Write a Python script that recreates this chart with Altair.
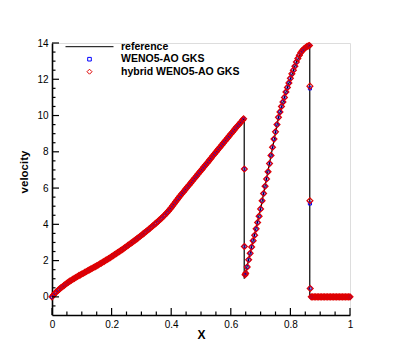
import altair as alt
import pandas as pd

# ---------------- data ----------------
series_names = ["reference", "WENO5-AO GKS", "hybrid WENO5-AO GKS"]
series_colors = ["black", "#0000ff", "#e00000"]

# numerical solution (cell values), common to both schemes
# segment 1: rise up to the first shock
x_seg1 = [0.000, 0.005, 0.010, 0.015, 0.020, 0.025, 0.030, 0.035, 0.040, 0.045,
          0.050, 0.055, 0.060, 0.065, 0.070, 0.075, 0.080, 0.085, 0.090, 0.095,
          0.100, 0.105, 0.110, 0.115, 0.120, 0.125, 0.130, 0.135, 0.140, 0.145,
          0.150, 0.155, 0.160, 0.165, 0.170, 0.175, 0.180, 0.185, 0.190, 0.195,
          0.200, 0.205, 0.210, 0.215, 0.220, 0.225, 0.230, 0.235, 0.240, 0.245,
          0.250, 0.255, 0.260, 0.265, 0.270, 0.275, 0.280, 0.285, 0.290, 0.295,
          0.300, 0.305, 0.310, 0.315, 0.320, 0.325, 0.330, 0.335, 0.340, 0.345,
          0.350, 0.355, 0.360, 0.365, 0.370, 0.375, 0.380, 0.385, 0.390, 0.395,
          0.400, 0.405, 0.410, 0.415, 0.420, 0.425, 0.430, 0.435, 0.440, 0.445,
          0.450, 0.455, 0.460, 0.465, 0.470, 0.475, 0.480, 0.485, 0.490, 0.495,
          0.500, 0.505, 0.510, 0.515, 0.520, 0.525, 0.530, 0.535, 0.540, 0.545,
          0.550, 0.555, 0.560, 0.565, 0.570, 0.575, 0.580, 0.585, 0.590, 0.595,
          0.600, 0.605, 0.610, 0.615, 0.620, 0.625, 0.630, 0.635, 0.640, 0.643]
v_seg1 = [0.0, 0.1, 0.2, 0.28, 0.35, 0.43, 0.5, 0.56, 0.62, 0.69,
          0.75, 0.81, 0.87, 0.92, 0.97, 1.02, 1.07, 1.12, 1.17, 1.21,
          1.26, 1.3, 1.35, 1.4, 1.44, 1.49, 1.53, 1.58, 1.62, 1.67,
          1.71, 1.76, 1.81, 1.86, 1.91, 1.96, 2.01, 2.06, 2.11, 2.16,
          2.22, 2.27, 2.33, 2.38, 2.44, 2.49, 2.55, 2.6, 2.66, 2.72,
          2.78, 2.84, 2.9, 2.96, 3.02, 3.08, 3.14, 3.2, 3.27, 3.33,
          3.4, 3.46, 3.53, 3.59, 3.66, 3.73, 3.8, 3.87, 3.94, 4.01,
          4.08, 4.15, 4.23, 4.3, 4.38, 4.46, 4.54, 4.63, 4.72, 4.82,
          4.92, 5.03, 5.14, 5.25, 5.36, 5.46, 5.57, 5.67, 5.77, 5.87,
          5.97, 6.07, 6.17, 6.27, 6.37, 6.47, 6.57, 6.67, 6.77, 6.87,
          6.97, 7.07, 7.17, 7.27, 7.37, 7.47, 7.57, 7.67, 7.78, 7.88,
          7.98, 8.08, 8.18, 8.28, 8.38, 8.48, 8.58, 8.68, 8.78, 8.88,
          8.98, 9.08, 9.18, 9.28, 9.38, 9.47, 9.56, 9.66, 9.75, 9.82]

# segment 2: between the two shocks
x_seg2 = [0.648, 0.650, 0.655, 0.660, 0.665, 0.670, 0.675, 0.680, 0.685, 0.690, 0.695,
          0.700, 0.705, 0.710, 0.715, 0.720, 0.725, 0.730, 0.735, 0.740, 0.745,
          0.750, 0.755, 0.760, 0.765, 0.770, 0.775, 0.780, 0.785, 0.790, 0.795,
          0.800, 0.805, 0.810, 0.815, 0.820, 0.825, 0.830, 0.835, 0.840, 0.845,
          0.850, 0.855, 0.860, 0.864]
v_seg2 = [1.22, 1.3, 1.65, 2.05, 2.4, 2.75, 3.1, 3.4, 3.75, 4.1, 4.45,
          4.85, 5.3, 5.7, 6.1, 6.5, 6.9, 7.35, 7.8, 8.25, 8.7,
          9.1, 9.5, 9.9, 10.2, 10.5, 10.75, 11.0, 11.3, 11.55, 11.8,
          12.05, 12.3, 12.5, 12.72, 12.95, 13.15, 13.32, 13.47, 13.58, 13.67,
          13.74, 13.8, 13.84, 13.86]

# segment 3: undisturbed gas right of the second shock
x_seg3 = [0.870, 0.875, 0.880, 0.885, 0.890, 0.895, 0.900, 0.905, 0.910, 0.915,
          0.920, 0.925, 0.930, 0.935, 0.940, 0.945, 0.950, 0.955, 0.960, 0.965,
          0.970, 0.975, 0.980, 0.985, 0.990, 0.995, 1.000]
v_seg3 = [0.0, 0.0, 0.0, 0.0, 0.0, 0.0, 0.0, 0.0, 0.0, 0.0,
          0.0, 0.0, 0.0, 0.0, 0.0, 0.0, 0.0, 0.0, 0.0, 0.0,
          0.0, 0.0, 0.0, 0.0, 0.0, 0.0, 0.0]

# intermediate cells inside the two shocks
x_shock = [0.6455, 0.6455, 0.8655, 0.8655, 0.8665]
v_shock_blue = [7.05, 2.78, 11.5, 5.15, 0.47]
v_shock_red = [7.05, 2.78, 11.62, 5.3, 0.46]

# reference solution
x_ref = [0.0, 0.05, 0.1, 0.2, 0.3, 0.4, 0.5, 0.6, 0.645, 0.645,
         0.66, 0.70, 0.76, 0.79, 0.82, 0.84, 0.865, 0.865, 1.0]
v_ref = [0.0, 0.75, 1.26, 2.22, 3.4, 4.92, 6.97, 8.98, 9.85, 1.0,
         2.05, 4.85, 9.9, 11.55, 12.95, 13.58, 13.87, 0.0, 0.0]

# axis ticks
x_major_ticks = [0, 0.2, 0.4, 0.6, 0.8, 1.0]
x_minor_ticks = [0.05, 0.1, 0.15, 0.25, 0.3, 0.35, 0.45, 0.5, 0.55,
                 0.65, 0.7, 0.75, 0.85, 0.9, 0.95]
y_major_ticks = [0, 2, 4, 6, 8, 10, 12, 14]
y_minor_ticks = [-0.5, 0.5, 1, 1.5, 2.5, 3, 3.5, 4.5, 5, 5.5, 6.5, 7, 7.5,
                 8.5, 9, 9.5, 10.5, 11, 11.5, 12.5, 13, 13.5]

# ---------------- chart ----------------
W, H = 298, 272
FONT = "Liberation Sans"

line_path = "M-4.8,0H4.8"
square_path = "M-0.36,-0.36H0.36V0.36H-0.36Z"
diamond_path = "M0,-0.5L0.5,0L0,0.5L-0.5,0Z"

x_all = x_seg1 + x_seg2 + x_seg3
v_all = v_seg1 + v_seg2 + v_seg3

ref_df = pd.DataFrame({"x": x_ref, "v": v_ref, "i": list(range(len(x_ref)))})
blue_df = pd.DataFrame({"x": x_all + x_shock, "v": v_all + v_shock_blue,
                        "series": series_names[1]})
red_df = pd.DataFrame({"x": x_all + x_shock, "v": v_all + v_shock_red,
                       "series": series_names[2]})

x_enc = alt.X("x:Q", scale=alt.Scale(domain=[0, 1], nice=False, zero=False),
              axis=alt.Axis(values=x_major_ticks, format="~g", ticks=False, tickSize=0,
                            grid=False, labelFlush=False, labelOverlap=False,
                            labelFont=FONT, labelFontSize=10, labelColor="black",
                            labelPadding=4, domainColor="black", domainWidth=1.6,
                            title="X", titleFont=FONT, titleFontSize=12,
                            titleFontWeight="bold", titleColor="black",
                            titleY=19, titleBaseline="middle", titleAlign="center"))
y_enc = alt.Y("v:Q", scale=alt.Scale(domain=[-1, 14], nice=False, zero=False),
              axis=alt.Axis(values=y_major_ticks, format="~g", ticks=False, tickSize=0,
                            grid=False, labelFlush=False, labelOverlap=False,
                            labelFont=FONT, labelFontSize=10, labelColor="black",
                            labelPadding=4, domainColor="black", domainWidth=1.6,
                            title="velocity", titleFont=FONT, titleFontSize=11.5,
                            titleFontWeight="bold", titleColor="black",
                            titleAngle=270, titleX=-28, titleY=128.5,
                            titleBaseline="middle", titleAlign="center"))

legend = alt.Legend(orient="none", legendX=32, legendY=-1.8, padding=0,
                    rowPadding=1.5, symbolSize=100, symbolStrokeWidth=1,
                    symbolOffset=0, labelOffset=26, labelFont=FONT,
                    labelFontSize=10.5, labelFontWeight="bold", labelColor="black",
                    labelLimit=300)

color_enc = alt.Color("series:N", title=None, legend=legend,
                      scale=alt.Scale(domain=series_names, range=series_colors))
shape_enc = alt.Shape("series:N", title=None, legend=legend,
                      scale=alt.Scale(domain=series_names,
                                      range=[line_path, square_path, diamond_path]))

ref_layer = alt.Chart(ref_df).mark_line(color="black", strokeWidth=1.2).encode(
    x=x_enc, y=y_enc, order="i:Q")

blue_layer = alt.Chart(blue_df).mark_point(filled=False, size=75, strokeWidth=1,
                                           opacity=1).encode(
    x=x_enc, y=y_enc, color=color_enc, shape=shape_enc)

red_layer = alt.Chart(red_df).mark_point(filled=False, size=140, strokeWidth=1.2,
                                         opacity=1).encode(
    x=x_enc, y=y_enc, color=color_enc, shape=shape_enc)

ytick_major = alt.Chart(pd.DataFrame({"v": y_major_ticks})).mark_rule(
    color="black", strokeWidth=1.2).encode(y=y_enc, x=alt.value(0), x2=alt.value(7))
ytick_minor = alt.Chart(pd.DataFrame({"v": y_minor_ticks})).mark_rule(
    color="black", strokeWidth=1.2).encode(y=y_enc, x=alt.value(0), x2=alt.value(3.5))
xtick_major = alt.Chart(pd.DataFrame({"x": x_major_ticks})).mark_rule(
    color="black", strokeWidth=1.2).encode(x=x_enc, y=alt.value(H), y2=alt.value(H - 7))
xtick_minor = alt.Chart(pd.DataFrame({"x": x_minor_ticks})).mark_rule(
    color="black", strokeWidth=1.2).encode(x=x_enc, y=alt.value(H), y2=alt.value(H - 3.5))

chart = alt.layer(
    ref_layer, blue_layer, red_layer,
    ytick_major, ytick_minor, xtick_major, xtick_minor
).properties(
    width=W, height=H,
    autosize=alt.AutoSizeParams(type="none"),
    padding={"left": 44, "top": 35, "right": 17, "bottom": 35},
    background="white",
).configure_view(stroke=None).configure(font=FONT)

chart.save("out.html", embed_options={"renderer": "svg", "actions": False})
